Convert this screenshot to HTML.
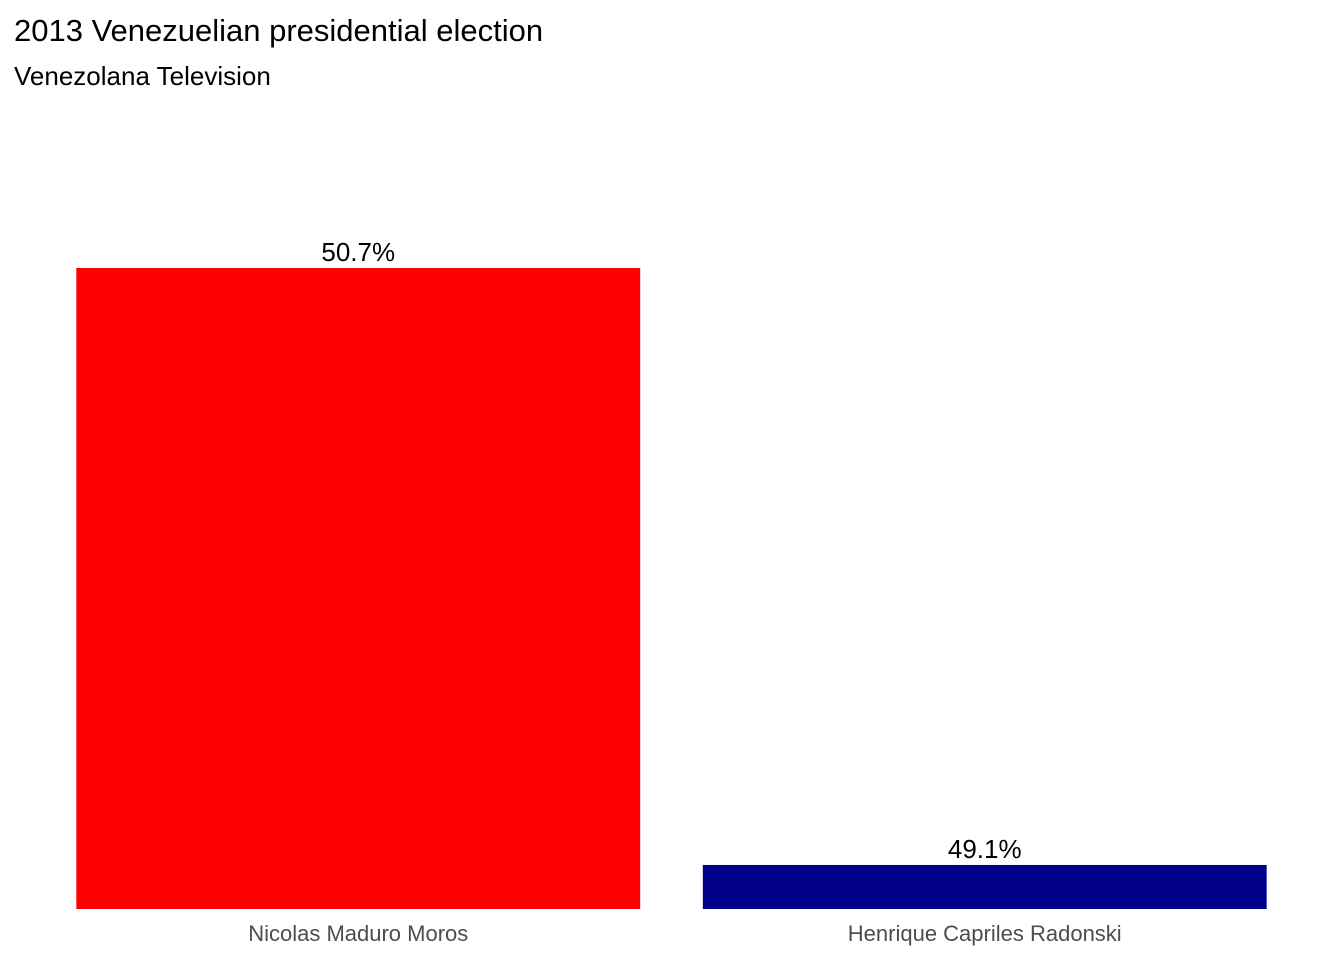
<!DOCTYPE html>
<html><head><meta charset="utf-8"><style>
body{margin:0;background:#fff;}
svg{display:block;font-family:"Liberation Sans",Arial,sans-serif;}
</style></head><body>
<svg id="chart" width="1344" height="960">
<text x="14" y="41" font-size="31" fill="#000">2013 Venezuelian presidential election</text>
<text x="14" y="85" font-size="26" fill="#000">Venezolana Television</text>
<g id="bars"></g>
</svg>
<script>
const categories = ["Nicolas Maduro Moros", "Henrique Capriles Radonski"];
const values = [50.7, 49.1];
const labels = ["50.7%", "49.1%"];
const colors = ["#ff0000", "#00008b"];
const yMin = 48.982, yRef = 50.7;
const baseY = 909, refY = 268;
function y(v){ return baseY - (v - yMin) / (yRef - yMin) * (baseY - refY); }
const plotL = 45, plotR = 1298, n = categories.length;
const step = (plotR - plotL) / n, bw = step * 0.9;
function xc(i){ return plotL + step * (i + 0.5); }
const g = document.getElementById('bars');
const ns = 'http://www.w3.org/2000/svg';
categories.forEach((c, i) => {
  const r = document.createElementNS(ns, 'rect');
  r.setAttribute('x', xc(i) - bw / 2);
  r.setAttribute('y', y(values[i]));
  r.setAttribute('width', bw);
  r.setAttribute('height', baseY - y(values[i]));
  r.setAttribute('fill', colors[i]);
  
  
  g.appendChild(r);
  const t = document.createElementNS(ns, 'text');
  t.setAttribute('x', xc(i));
  t.setAttribute('y', y(values[i]) - 7);
  t.setAttribute('text-anchor', 'middle');
  t.setAttribute('font-size', '26');
  t.textContent = labels[i];
  
  
  g.appendChild(t);
  const a = document.createElementNS(ns, 'text');
  a.setAttribute('x', xc(i));
  a.setAttribute('y', 941);
  a.setAttribute('text-anchor', 'middle');
  a.setAttribute('font-size', '22');
  a.setAttribute('fill', '#4d4d4d');
  a.textContent = c;
  
  
  g.appendChild(a);
});
</script>
</body></html>
